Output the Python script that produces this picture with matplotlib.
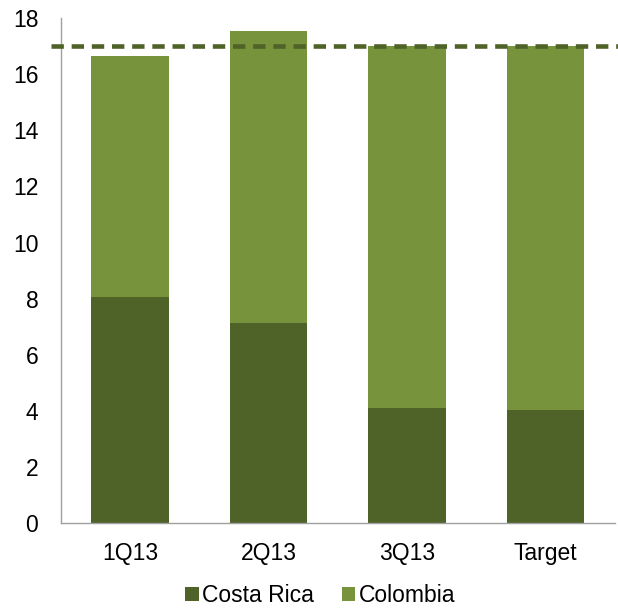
import matplotlib
matplotlib.use("Agg")
import matplotlib.pyplot as plt
from matplotlib.patches import Patch

categories = ["1Q13", "2Q13", "3Q13", "Target"]
costa_rica = [8.05, 7.14, 4.08, 4.02]
colombia = [8.60, 10.40, 12.92, 12.98]
target_line = 17.0
yticks = [0, 2, 4, 6, 8, 10, 12, 14, 16, 18]

c_cr = "#4F6228"
c_co = "#77933C"

plt.rcParams["font.family"] = ["Liberation Sans", "DejaVu Sans"]

fig = plt.figure(figsize=(6.18, 6.08), dpi=100)
ax = fig.add_axes([0.098, 0.140, 0.897, 0.830])

x = range(len(categories))
ax.bar(x, costa_rica, width=0.56, color=c_cr, label="Costa Rica", zorder=2)
ax.bar(x, colombia, width=0.56, bottom=costa_rica, color=c_co, label="Colombia", zorder=2)

ax.plot([-0.018, 1.01], [target_line, target_line], transform=ax.get_yaxis_transform(),
        color=c_cr, lw=3.3, linestyle=(0, (2.7, 1.7)), clip_on=False, zorder=3)

ax.set_xlim(-0.5, 3.5)
ax.set_ylim(0, 18)
ax.set_yticks(yticks)
ax.set_xticks(list(x))
ax.set_xticklabels(categories)
ax.tick_params(axis="both", length=0, labelsize=16.5, colors="#000000")
ax.tick_params(axis="x", pad=14)
ax.tick_params(axis="y", pad=16)

for s in ["top", "right"]:
    ax.spines[s].set_visible(False)
for s in ["left", "bottom"]:
    ax.spines[s].set_color("#A0A0A0")
    ax.spines[s].set_linewidth(1.0)

handles = [Patch(facecolor=c_cr, label="Costa Rica"), Patch(facecolor=c_co, label="Colombia")]
fig.legend(handles=handles, loc="lower center", bbox_to_anchor=(0.518, 0.0), ncol=2,
           frameon=False, fontsize=16.5, handlelength=0.6, handleheight=0.6,
           handletextpad=0.15, columnspacing=1.2, borderpad=0, borderaxespad=0.05)

fig.savefig("out.png", dpi=100)
